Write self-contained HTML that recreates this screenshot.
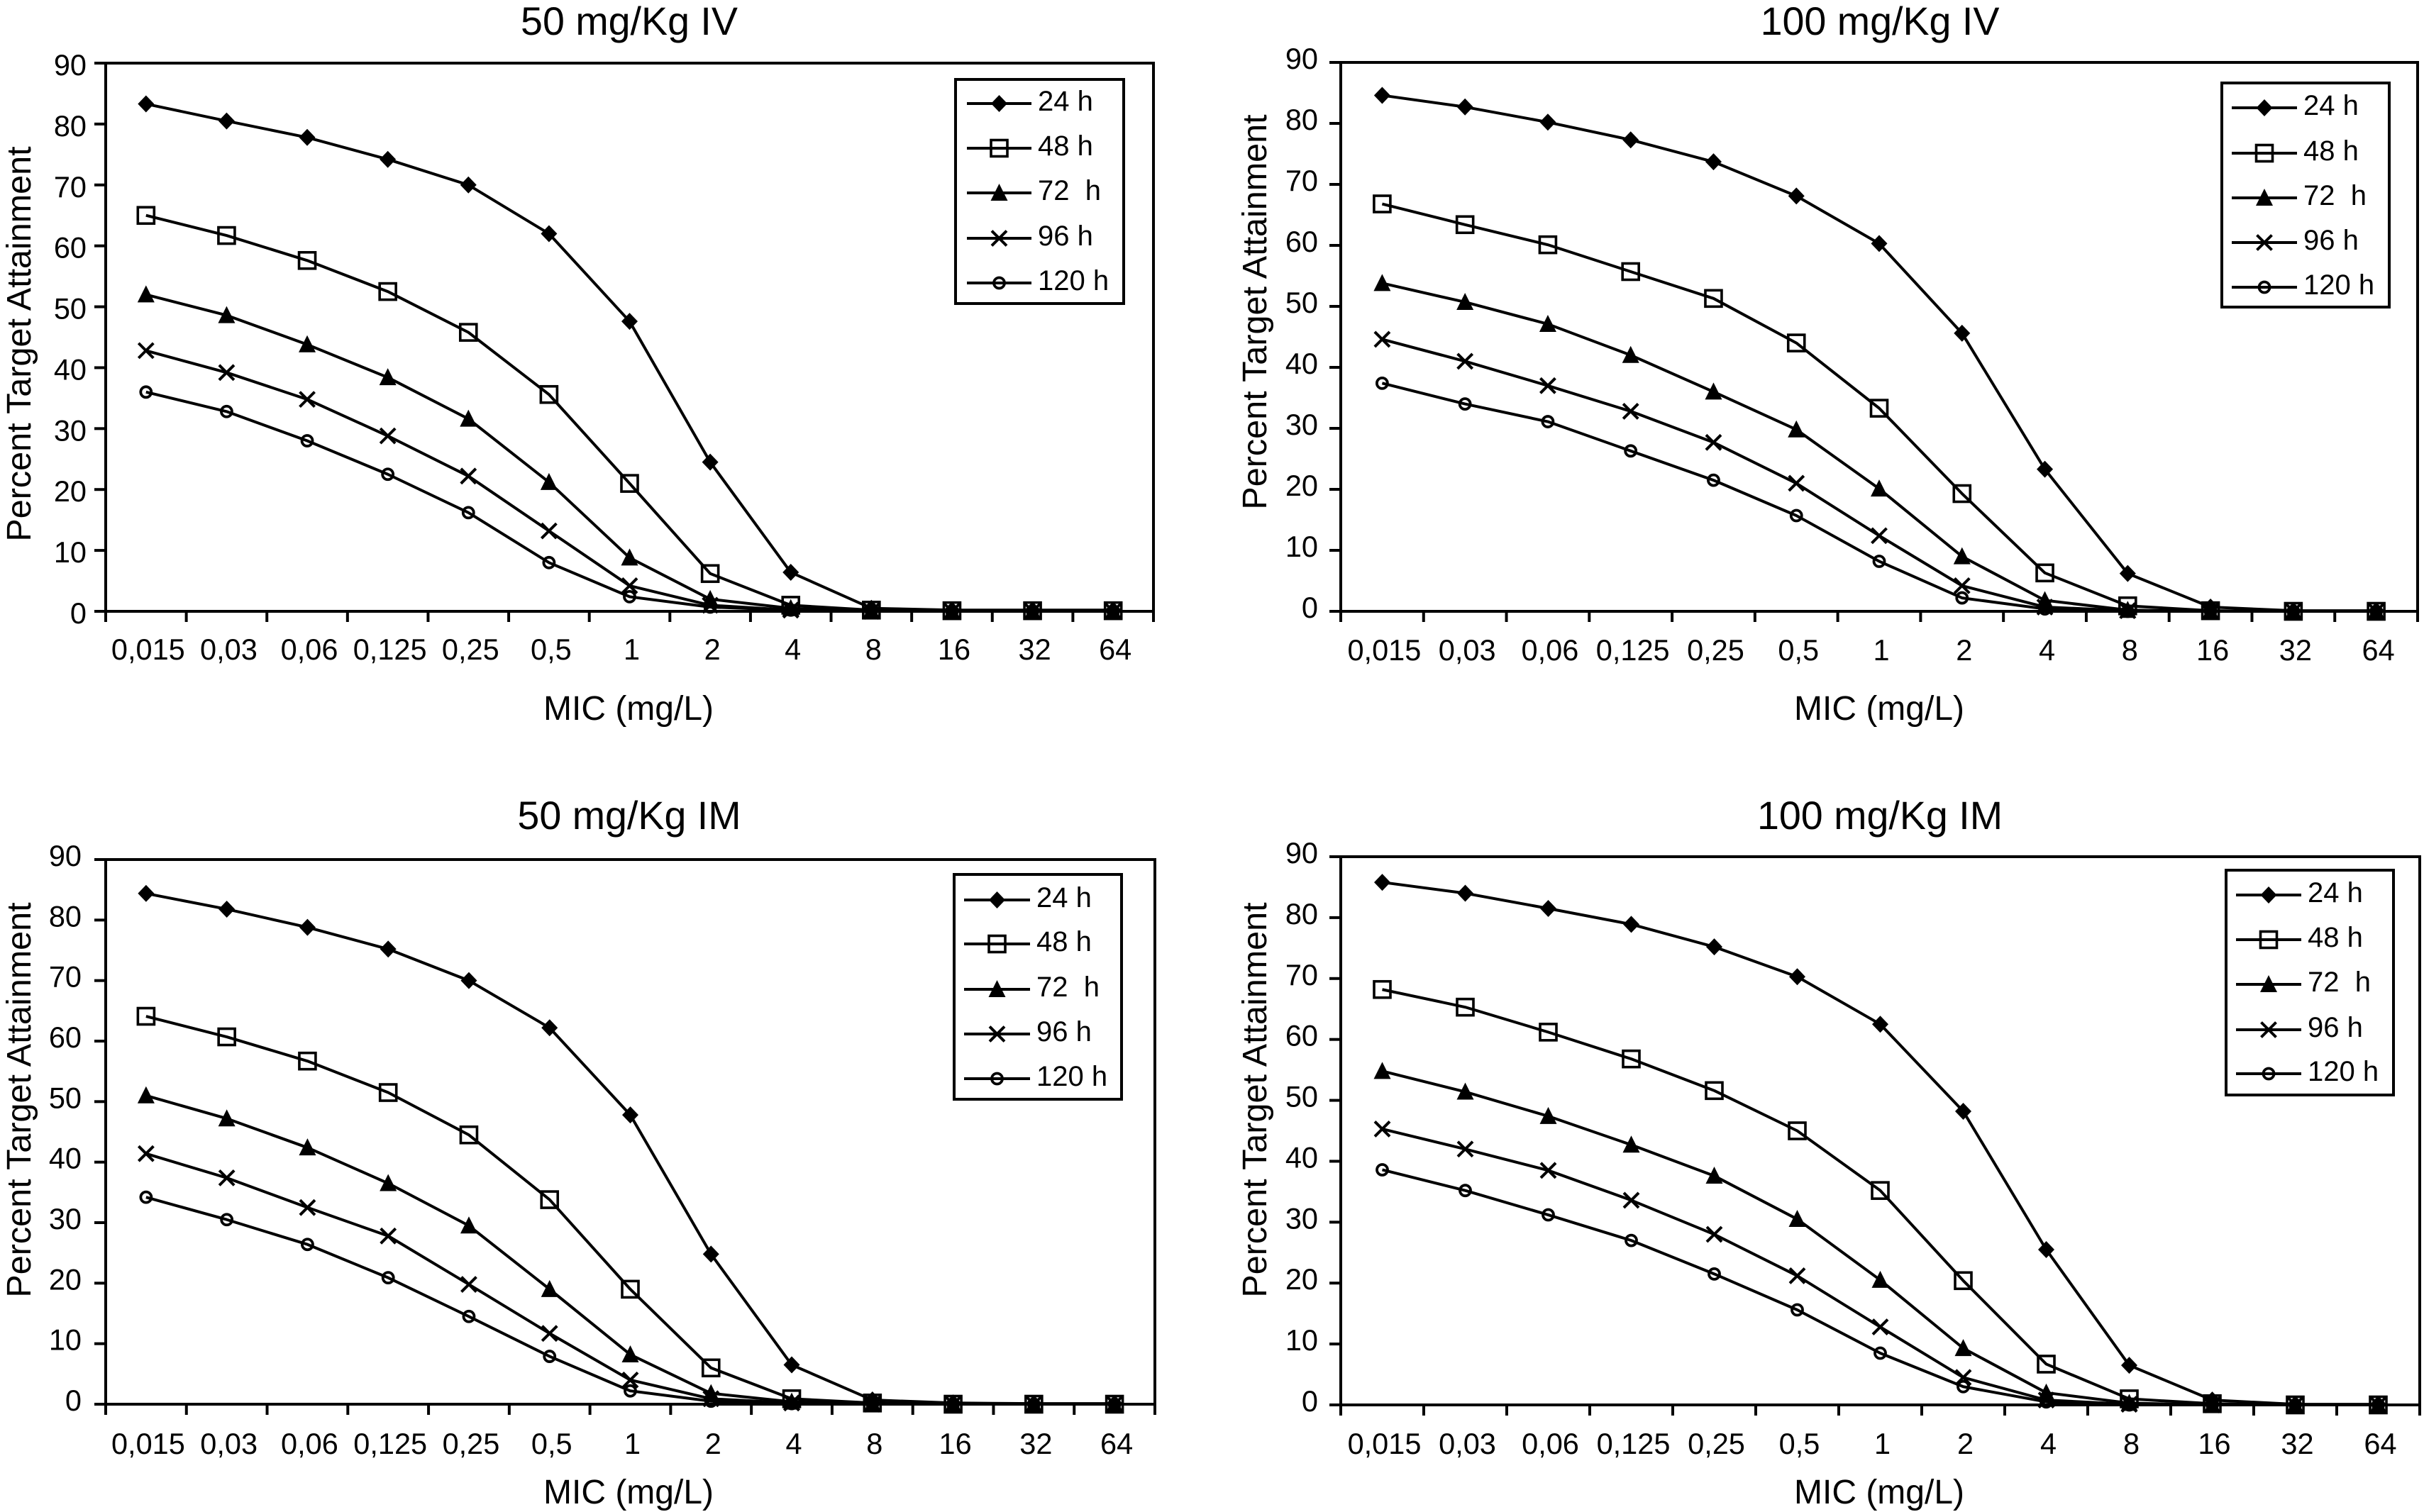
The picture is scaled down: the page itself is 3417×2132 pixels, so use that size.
<!DOCTYPE html>
<html lang="en">
<head>
<meta charset="utf-8">
<title>Percent Target Attainment by MIC</title>
<style>
  html, body { margin: 0; padding: 0; background: #fff; }
  body { width: 3417px; height: 2132px; overflow: hidden; }
  svg { display: block; }
  text { font-family: "Liberation Sans", Arial, sans-serif; fill: #000; white-space: pre; }
</style>
</head>
<body>
<svg id="figure" xmlns="http://www.w3.org/2000/svg" width="3417" height="2132" viewBox="0 0 3417 2132">
  <rect x="0" y="0" width="3417" height="2132" fill="#fff"/>
</svg>
<script>
// ---- chart data ----
const categories = ["0,015","0,03","0,06","0,125","0,25","0,5","1","2","4","8","16","32","64"];
const yTickValues = [0,10,20,30,40,50,60,70,80,90];
const seriesLabels = ["24 h","48 h","72  h","96 h","120 h"];
const xAxisTitle = "MIC (mg/L)";
const yAxisTitle = "Percent Target Attainment";
const panelTitles = ["50 mg/Kg IV","100 mg/Kg IV","50 mg/Kg IM","100 mg/Kg IM"];

const iv50h24  = [83.3,80.5,77.8,74.2,70.0,62.0,47.6,24.5,6.4,0.5,0.2,0.2,0.2];
const iv50h48  = [65.0,61.7,57.6,52.5,45.8,35.6,21.0,6.2,1.0,0.2,0.1,0.1,0.1];
const iv50h72  = [52.0,48.6,43.8,38.4,31.6,21.2,8.8,2.0,0.5,0.1,0,0,0];
const iv50h96  = [42.8,39.2,34.8,28.8,22.2,13.2,4.2,1.0,0.2,0,0,0,0];
const iv50h120 = [36.0,32.8,28.0,22.5,16.2,8.0,2.4,0.7,0.2,0,0,0,0];

const iv100h24  = [84.6,82.7,80.2,77.3,73.7,68.1,60.3,45.6,23.3,6.2,0.7,0.1,0.1];
const iv100h48  = [66.8,63.4,60.1,55.7,51.3,44.0,33.3,19.3,6.3,0.9,0.1,0,0];
const iv100h72  = [53.8,50.7,47.1,42.0,36.0,29.8,20.1,9.0,1.8,0.2,0,0,0];
const iv100h96  = [44.6,41.0,37.0,32.8,27.7,21.0,12.4,4.2,0.7,0.1,0,0,0];
const iv100h120 = [37.4,34.0,31.1,26.3,21.5,15.7,8.2,2.2,0.4,0,0,0,0];

const im50h24  = [84.4,81.8,78.8,75.2,70.0,62.2,47.8,24.8,6.5,0.7,0.2,0.1,0.1];
const im50h48  = [64.1,60.7,56.7,51.5,44.5,33.8,19.0,6.0,0.9,0.2,0,0,0];
const im50h72  = [51.0,47.2,42.4,36.5,29.5,19.0,8.2,1.8,0.4,0.1,0,0,0];
const im50h96  = [41.4,37.4,32.5,27.8,19.8,11.7,4.0,0.9,0.2,0,0,0,0];
const im50h120 = [34.2,30.5,26.4,20.9,14.5,7.9,2.2,0.5,0.1,0,0,0,0];

const im100h24  = [85.8,84.0,81.5,78.9,75.2,70.3,62.5,48.2,25.5,6.5,0.8,0.1,0.1];
const im100h48  = [68.2,65.3,61.2,56.8,51.6,45.0,35.2,20.4,6.7,1.0,0.2,0,0];
const im100h72  = [54.8,51.4,47.4,42.7,37.6,30.5,20.5,9.3,2.0,0.3,0,0,0];
const im100h96  = [45.3,42.0,38.5,33.6,28.0,21.2,12.8,4.5,0.8,0.1,0,0,0];
const im100h120 = [38.6,35.2,31.2,27.0,21.5,15.6,8.5,3.0,0.5,0,0,0,0];

const panelSeries = [
  [iv50h24, iv50h48, iv50h72, iv50h96, iv50h120],
  [iv100h24, iv100h48, iv100h72, iv100h96, iv100h120],
  [im50h24, im50h48, im50h72, im50h96, im50h120],
  [im100h24, im100h48, im100h72, im100h96, im100h120]
];

// ---- layout (not data) ----
const Y_MAX = 90;
const layouts = [
  { left:149,  right:1626, top:89,   bottom:862,  titleX:887,  titleY:49,   xTitleX:886,  xTitleY:1015, yTitleX:43,   yTitleC:485,
    yLabelRight:122,  yLabelDy:17, xLabelY:930,
    legend:{x0:1347,x1:1584,y0:112,y1:428,lineX0:1363,lineX1:1454,textX:1463,rows:[146,209,272,336,399]} },
  { left:1890, right:3408, top:88,   bottom:862,  titleX:2650, titleY:49,   xTitleX:2649, xTitleY:1015, yTitleX:1785, yTitleC:440,
    yLabelRight:1858, yLabelDy:9,  xLabelY:931,
    legend:{x0:3132,x1:3368,y0:117,y1:433,lineX0:3146,lineX1:3238,textX:3247,rows:[152,216,279,342,405]} },
  { left:149,  right:1628, top:1212, bottom:1980, titleX:887,  titleY:1169, xTitleX:886,  xTitleY:2120, yTitleX:43,   yTitleC:1551,
    yLabelRight:115,  yLabelDy:9,  xLabelY:2050,
    legend:{x0:1345,x1:1581,y0:1233,y1:1550,lineX0:1359,lineX1:1452,textX:1461,rows:[1269,1331,1395,1458,1521]} },
  { left:1890, right:3411, top:1208, bottom:1981, titleX:2650, titleY:1169, xTitleX:2649, xTitleY:2120, yTitleX:1785, yTitleC:1551,
    yLabelRight:1858, yLabelDy:9,  xLabelY:2050,
    legend:{x0:3138,x1:3374,y0:1227,y1:1544,lineX0:3152,lineX1:3244,textX:3253,rows:[1262,1325,1388,1452,1514]} }
];
const markerKinds = ["diamond","square","triangle","cross","circle"];
const panelNames = ["iv-50","iv-100","im-50","im-100"];
const seriesNames = ["24h","48h","72h","96h","120h"];

const NS = "http://www.w3.org/2000/svg";
const root = document.getElementById("figure");

function el(parent, tag, attrs) {
  const node = document.createElementNS(NS, tag);
  for (const k in attrs) node.setAttribute(k, attrs[k]);
  parent.appendChild(node);
  return node;
}
function line(parent, x1, y1, x2, y2, w) {
  const node = el(parent, "line", {x1:x1, y1:y1, x2:x2, y2:y2, stroke:"#000", "stroke-width":w});
  return node;
}
function label(parent, x, y, size, anchor, str) {
  const node = el(parent, "text", {x:x, y:y, "font-size":size, "text-anchor":anchor});
  node.textContent = str;
  return node;
}
function drawMarker(parent, kind, cx, cy) {
  const g = el(parent, "g", {});
  if (kind === "diamond") {
    el(g, "polygon", {points:[cx-11.5,cy, cx,cy-12, cx+11.5,cy, cx,cy+12].join(","), fill:"#000"});
  } else if (kind === "square") {
    el(g, "rect", {x:cx-11.5, y:cy-11.5, width:23, height:23, fill:"none", stroke:"#000", "stroke-width":3.6});
  } else if (kind === "triangle") {
    el(g, "polygon", {points:[cx,cy-13, cx+12,cy+11, cx-12,cy+11].join(","), fill:"#000"});
  } else if (kind === "cross") {
    el(g, "line", {x1:cx-10.5, y1:cy-10.5, x2:cx+10.5, y2:cy+10.5, stroke:"#000", "stroke-width":4});
    el(g, "line", {x1:cx-10.5, y1:cy+10.5, x2:cx+10.5, y2:cy-10.5, stroke:"#000", "stroke-width":4});
  } else {
    el(g, "circle", {cx:cx, cy:cy, r:7.5, fill:"none", stroke:"#000", "stroke-width":3.8});
  }
  return g;
}

layouts.forEach(function (L, p) {
  const xBand = function (i) { return L.left + (L.right - L.left) * i / categories.length; };
  const xScale = function (i) { return L.left + (L.right - L.left) * (i + 0.5) / categories.length; };
  const yScale = function (v) { return L.bottom - (L.bottom - L.top) * v / Y_MAX; };

  const panel = el(root, "g", {});
  
  

  const title = label(panel, L.titleX, L.titleY, 55.6, "middle", panelTitles[p]);
  
  

  // plot frame
  const frame = el(panel, "rect", {x:L.left, y:L.top, width:L.right-L.left, height:L.bottom-L.top, fill:"none", stroke:"#000", "stroke-width":4});
  
  

  // y axis
  yTickValues.forEach(function (v) {
    const tick = line(panel, L.left-16, yScale(v), L.left, yScale(v), 4);
    
    
    const t = label(panel, L.yLabelRight, yScale(v) + L.yLabelDy, 41.5, "end", String(v));
    
    
  });

  // x axis
  for (let i = 0; i <= categories.length; i++) {
    const tick = line(panel, xBand(i), L.bottom, xBand(i), L.bottom+15, 4);
    
    
  }
  categories.forEach(function (c, i) {
    const t = label(panel, xScale(i)+3, L.xLabelY, 41.5, "middle", c);
    
    
  });

  const xt = label(panel, L.xTitleX, L.xTitleY, 48, "middle", xAxisTitle);
  
  

  const yt = label(panel, 0, 0, 48.5, "middle", yAxisTitle);
  yt.setAttribute("transform", "translate(" + L.yTitleX + "," + L.yTitleC + ") rotate(-90)");
  
  

  // series
  panelSeries[p].forEach(function (values, s) {
    const group = el(panel, "g", {});
    
    
    const pts = values.map(function (v, i) { return xScale(i) + "," + yScale(v); }).join(" ");
    const path = el(group, "polyline", {points:pts, fill:"none", stroke:"#000", "stroke-width":4, "stroke-linejoin":"round"});
    
    
    values.forEach(function (v, i) {
      const m = drawMarker(group, markerKinds[s], xScale(i), yScale(v));
      
      
    });
  });

  // legend
  const Lg = L.legend;
  const legend = el(panel, "g", {});
  
  
  const box = el(legend, "rect", {x:Lg.x0, y:Lg.y0, width:Lg.x1-Lg.x0, height:Lg.y1-Lg.y0, fill:"#fff", stroke:"#000", "stroke-width":4});
  
  
  seriesLabels.forEach(function (lab, s) {
    const entry = el(legend, "g", {});
    
    
    const y = Lg.rows[s];
    line(entry, Lg.lineX0, y, Lg.lineX1, y, 4);
    drawMarker(entry, markerKinds[s], (Lg.lineX0+Lg.lineX1)/2, y);
    const t = label(entry, Lg.textX, y+10, 40, "start", lab);
    
    
  });
});
</script>
</body>
</html>
